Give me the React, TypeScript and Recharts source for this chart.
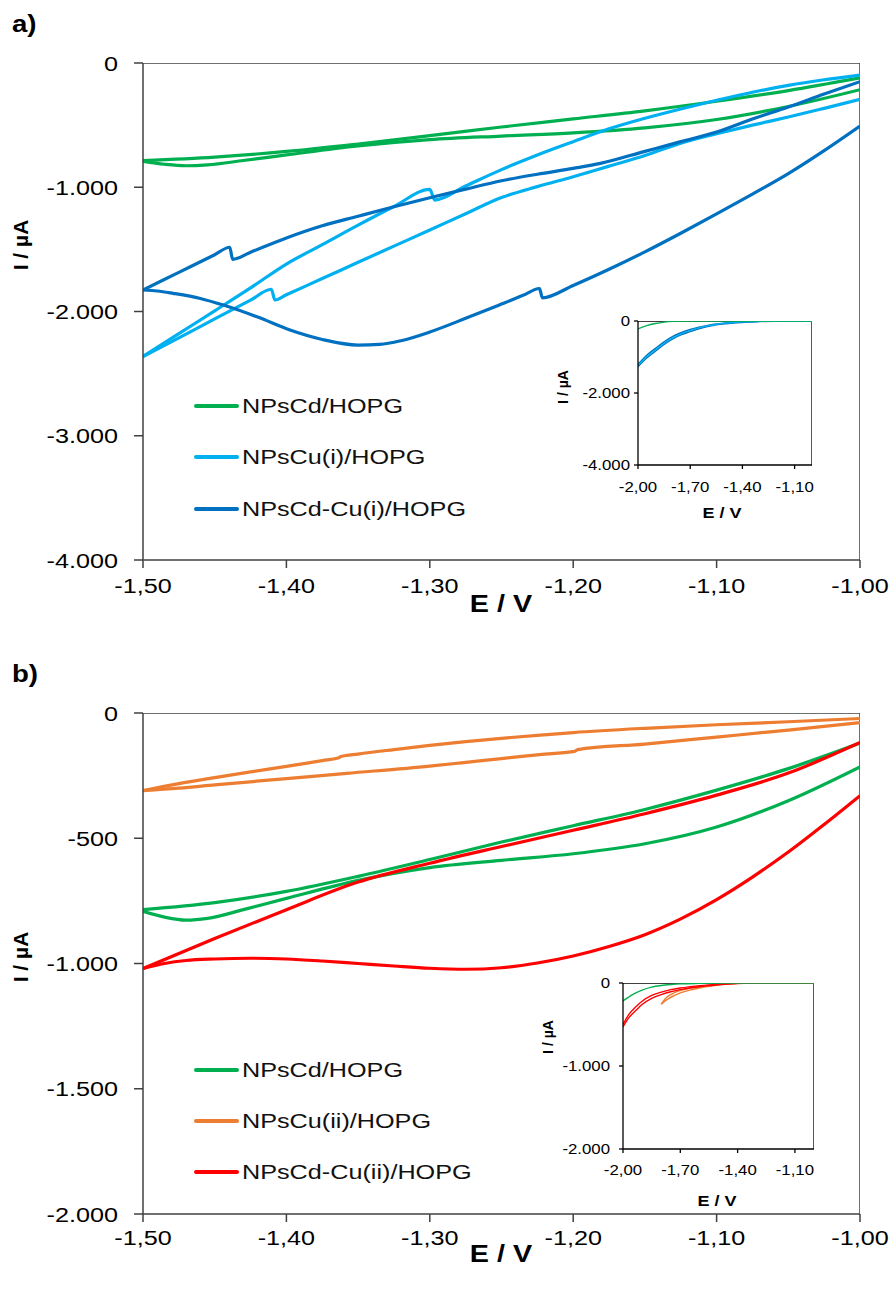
import React from 'react';
import { LineChart, Line, XAxis, YAxis, Label } from 'recharts';

type Pt = [number, number];

// ---------- shared: NPsCd/HOPG (same scan in both panels) ----------
const cdUpper: Pt[] = [
    [-1.5, -785], [-1.45, -757], [-1.4, -712], [-1.35, -652], [-1.3, -585], [-1.25, -515],
    [-1.2, -450], [-1.15, -385], [-1.1, -308], [-1.05, -222], [-1.0, -120],
];
const cdLower: Pt[] = [
    [-1.5, -792], [-1.485, -815], [-1.47, -827], [-1.455, -820], [-1.43, -785], [-1.4, -740],
    [-1.35, -668], [-1.3, -617], [-1.25, -588], [-1.2, -562], [-1.15, -522], [-1.1, -455],
    [-1.05, -350], [-1.0, -215],
];

// ---------- panel a ----------
const cu1Upper: Pt[] = [
    [-1.5, -2362], [-1.475, -2178], [-1.45, -1995], [-1.425, -1810], [-1.4, -1618], [-1.375, -1462],
    [-1.35, -1305], [-1.325, -1155], [-1.3, -1017], [-1.2965, -1103], [-1.275, -990], [-1.25, -858],
    [-1.225, -740], [-1.2, -633], [-1.175, -530], [-1.15, -445], [-1.125, -370], [-1.1, -300],
    [-1.075, -235], [-1.05, -180], [-1.025, -135], [-1.0, -97],
];
const cu1Lower: Pt[] = [
    [-1.5, -2362], [-1.475, -2212], [-1.45, -2060], [-1.425, -1909], [-1.4105, -1821], [-1.408, -1907],
    [-1.4, -1865], [-1.375, -1735], [-1.35, -1604], [-1.325, -1474], [-1.3, -1344], [-1.275, -1213],
    [-1.25, -1083], [-1.225, -995], [-1.2, -915], [-1.175, -830], [-1.15, -745], [-1.125, -645],
    [-1.1, -570], [-1.075, -500], [-1.05, -435], [-1.025, -365], [-1.0, -293],
];
const cdCu1Upper: Pt[] = [
    [-1.5, -1827], [-1.475, -1685], [-1.45, -1543], [-1.4395, -1483], [-1.4375, -1580], [-1.425, -1523],
    [-1.4, -1408], [-1.375, -1310], [-1.35, -1233], [-1.325, -1157], [-1.3, -1084], [-1.275, -1015],
    [-1.25, -948], [-1.225, -895], [-1.2, -848], [-1.181, -808], [-1.15, -711], [-1.125, -633],
    [-1.1, -556], [-1.075, -451], [-1.05, -355], [-1.025, -250], [-1.0, -150],
];
const cdCu1Lower: Pt[] = [
    [-1.5, -1827], [-1.49, -1835], [-1.479, -1854], [-1.46, -1895], [-1.444, -1948], [-1.42, -2045],
    [-1.3975, -2149], [-1.375, -2225], [-1.35, -2270], [-1.335, -2265], [-1.32, -2235], [-1.3, -2165],
    [-1.275, -2055], [-1.25, -1940], [-1.235, -1870], [-1.2235, -1815], [-1.2215, -1890], [-1.2, -1790],
    [-1.175, -1660], [-1.15, -1520], [-1.125, -1370], [-1.1, -1215], [-1.075, -1055], [-1.05, -890],
    [-1.025, -705], [-1.0, -507],
];

// inset a (E from -2,00 to -1,00)
const insetCdA: Pt[] = [
    [-2.0, -220], [-1.95, -130], [-1.9, -70], [-1.85, -30], [-1.8, -10], [-1.7, 0], [-1.0, 0],
];
const insetCdCu1A: Pt[] = [
    [-2.0, -1270], [-1.95, -1030], [-1.9, -840], [-1.85, -650], [-1.8, -495], [-1.75, -380],
    [-1.7, -296], [-1.65, -215], [-1.6, -155], [-1.55, -105], [-1.5, -75], [-1.45, -55],
    [-1.4, -40], [-1.3, -15], [-1.2, -5], [-1.1, 0], [-1.0, 0],
];
const insetCdCu1B: Pt[] = [
    [-2.0, -1200], [-1.95, -950], [-1.9, -760], [-1.85, -580], [-1.8, -430], [-1.75, -320],
    [-1.7, -235], [-1.65, -170], [-1.6, -120], [-1.55, -80], [-1.5, -55], [-1.45, -35],
    [-1.4, -25], [-1.3, -10], [-1.2, 0], [-1.0, 0],
];
const insetCu1A: Pt[] = [
    [-2.0, -1230], [-1.95, -990], [-1.9, -800], [-1.85, -620], [-1.8, -470], [-1.75, -350],
    [-1.7, -265], [-1.65, -190], [-1.6, -135], [-1.55, -90], [-1.5, -60], [-1.45, -40],
    [-1.4, -25], [-1.3, -10], [-1.2, 0], [-1.0, 0],
];

// ---------- panel b ----------
const cu2Upper: Pt[] = [
    [-1.5, -310], [-1.475, -282], [-1.45, -258], [-1.425, -235], [-1.4, -213], [-1.375, -190],
    [-1.364, -180], [-1.362, -174], [-1.35, -164], [-1.325, -146], [-1.3, -129], [-1.275, -114],
    [-1.25, -101], [-1.225, -89], [-1.2, -78], [-1.15, -61], [-1.1, -47], [-1.05, -35], [-1.0, -22],
];
const cu2Lower: Pt[] = [
    [-1.5, -310], [-1.475, -300], [-1.45, -287], [-1.4, -262], [-1.358, -241], [-1.3, -212],
    [-1.278, -199], [-1.25, -182], [-1.22, -164], [-1.199, -153], [-1.197, -146], [-1.15, -124],
    [-1.1, -96], [-1.05, -68], [-1.0, -38],
];
const cdCu2Upper: Pt[] = [
    [-1.5, -1020], [-1.45, -900], [-1.4, -785], [-1.35, -675], [-1.3, -600], [-1.25, -533],
    [-1.2, -468], [-1.15, -402], [-1.1, -328], [-1.05, -240], [-1.0, -118],
];
const cdCu2Lower: Pt[] = [
    [-1.5, -1020], [-1.485, -1000], [-1.47, -988], [-1.45, -982], [-1.425, -979], [-1.4, -982],
    [-1.375, -990], [-1.35, -1000], [-1.325, -1010], [-1.3, -1019], [-1.275, -1023], [-1.25, -1017],
    [-1.225, -998], [-1.2, -970], [-1.175, -932], [-1.15, -885], [-1.125, -822], [-1.1, -745],
    [-1.075, -655], [-1.05, -555], [-1.025, -445], [-1.0, -330],
];

// inset b
const insetCdB: Pt[] = [
    [-2.0, -215], [-1.95, -140], [-1.9, -85], [-1.85, -50], [-1.8, -30], [-1.75, -18],
    [-1.7, -10], [-1.6, -4], [-1.5, 0], [-1.0, 0],
];
const insetCdCu2A: Pt[] = [
    [-2.0, -530], [-1.97, -420], [-1.93, -325], [-1.9, -260], [-1.85, -185], [-1.8, -140],
    [-1.75, -105], [-1.7, -80], [-1.65, -60], [-1.6, -45], [-1.55, -33], [-1.5, -22],
    [-1.45, -12], [-1.4, -6], [-1.3, 0], [-1.0, 0],
];
const insetCdCu2B: Pt[] = [
    [-2.0, -500], [-1.97, -380], [-1.93, -280], [-1.9, -220], [-1.85, -150], [-1.8, -110],
    [-1.75, -80], [-1.7, -60], [-1.65, -45], [-1.6, -32], [-1.55, -22], [-1.5, -14],
    [-1.45, -8], [-1.4, -3], [-1.3, 0], [-1.0, 0],
];
const insetCu2A: Pt[] = [
    [-1.8, -255], [-1.77, -200], [-1.73, -150], [-1.7, -120], [-1.65, -85], [-1.6, -60],
    [-1.55, -40], [-1.5, -25], [-1.45, -12], [-1.4, -5], [-1.3, 0], [-1.0, 0],
];
const insetCu2B: Pt[] = [
    [-1.8, -255], [-1.77, -170], [-1.73, -115], [-1.7, -90], [-1.65, -62], [-1.6, -42],
    [-1.55, -28], [-1.5, -16], [-1.45, -8], [-1.4, -3], [-1.3, 0], [-1.0, 0],
];

// axis ranges and ticks
const E_DOMAIN: [number, number] = [-1.5, -1.0];
const INSET_E_DOMAIN: [number, number] = [-2.0, -1.0];
const E_TICKS = [-1.5, -1.4, -1.3, -1.2, -1.1, -1.0];
const INSET_E_TICKS = [-2.0, -1.7, -1.4, -1.1];
const I_TICKS_A = [0, -1000, -2000, -3000, -4000];
const I_TICKS_B = [0, -500, -1000, -1500, -2000];
const INSET_I_TICKS_A = [0, -2000, -4000];
const INSET_I_TICKS_B = [0, -1000, -2000];

const GREEN = '#00B050';
const LIGHT_BLUE = '#00B0F0';
const DARK_BLUE = '#0070C0';
const ORANGE = '#ED7D31';
const RED = '#FF0000';
const AX = '#404040';
const FONT = '"Liberation Sans", Arial, sans-serif';

const LEGEND_A = [
    { name: 'NPsCd/HOPG', color: GREEN },
    { name: 'NPsCu(i)/HOPG', color: LIGHT_BLUE },
    { name: 'NPsCd-Cu(i)/HOPG', color: DARK_BLUE },
];
const LEGEND_B = [
    { name: 'NPsCd/HOPG', color: GREEN },
    { name: 'NPsCu(ii)/HOPG', color: ORANGE },
    { name: 'NPsCd-Cu(ii)/HOPG', color: RED },
];

const rows = (pts: Pt[]) => pts.map(([e, i]) => ({ e, i }));

// top and right edges of the plot box, built from the axis ranges
const frameTop = (xd: [number, number], yd: [number, number]) => rows([[xd[0], yd[1]], [xd[1], yd[1]]]);
const frameRight = (xd: [number, number], yd: [number, number]) => rows([[xd[1], yd[0]], [xd[1], yd[1]]]);

const fmtE = (v: number) => v.toFixed(2).replace('.', ',');
const fmtI = (v: number) => {
    const s = Math.abs(v).toString().replace(/\B(?=(\d{3})+(?!\d))/g, '.');
    return (v < 0 ? '-' : '') + s;
};

// the source picture is stretched sideways, so text is widened a bit
const makeTick =
    (size: number, anchor: 'end' | 'middle', dy: number, fmt: (v: number) => string) =>
    (props: any) => {
        const { x, y, payload } = props;
        return (
            <g transform={`translate(${x},${y})`}>
                <text transform="scale(1.2,1)" textAnchor={anchor} dy={dy} fontSize={size} fill="#000" fontFamily={FONT}>
                    {fmt(payload.value)}
                </text>
            </g>
        );
    };

const LegendBox = ({ items, rowH, left, top }: { items: { name: string; color: string }[]; rowH: number; left: number; top: number }) => (
    <div style={{ position: 'absolute', left, top }}>
        {items.map((it) => (
            <div key={it.name} style={{ height: rowH, display: 'flex', alignItems: 'center' }}>
                <span style={{ display: 'inline-block', width: 45, height: 4, borderRadius: 2, background: it.color }} />
                <span
                    style={{
                        display: 'inline-block',
                        marginLeft: 3,
                        fontSize: 21,
                        fontFamily: FONT,
                        color: '#111',
                        whiteSpace: 'nowrap',
                        transform: 'scaleX(1.2)',
                        transformOrigin: 'left center',
                    }}
                >
                    {it.name}
                </span>
            </div>
        ))}
    </div>
);

type Series = { pts: Pt[]; color: string };

type MainProps = {
    series: Series[];
    yDomain: [number, number];
    yTicks: number[];
    yLabelY: number;
    xAxisH: number;
    xTickMargin: number;
};

const MainChart: React.FC<MainProps> = ({ series, yDomain, yTicks, yLabelY, xAxisH, xTickMargin }) => (
    <LineChart width={890} height={640} margin={{ top: 63, right: 30, left: 0, bottom: 0 }}>
        <XAxis
            dataKey="e"
            type="number"
            domain={E_DOMAIN}
            ticks={E_TICKS}
            allowDataOverflow
            height={xAxisH}
            tickSize={8}
            tickMargin={xTickMargin}
            axisLine={{ stroke: AX, strokeWidth: 1.5 }}
            tickLine={{ stroke: AX, strokeWidth: 1.5 }}
            tick={makeTick(21, 'middle', 15, fmtE)}
        >
            <Label
                content={() => (
                    <text x={501} y={612} textAnchor="middle" fontSize={23} fontWeight="bold" fontFamily={FONT} fill="#000" transform="translate(501,0) scale(1.25,1) translate(-501,0)">
                        E / V
                    </text>
                )}
            />
        </XAxis>
        <YAxis
            type="number"
            domain={yDomain}
            ticks={yTicks}
            allowDataOverflow
            width={143}
            tickSize={9}
            tickMargin={16}
            axisLine={{ stroke: AX, strokeWidth: 1.5 }}
            tickLine={{ stroke: AX, strokeWidth: 1.5 }}
            tick={makeTick(21, 'end', 7.5, fmtI)}
        >
            <Label
                content={() => (
                    <text x={20} y={yLabelY} transform={`rotate(-90 20 ${yLabelY})`} textAnchor="middle" dominantBaseline="central" fontSize={21} fontWeight="bold" fontFamily={FONT} fill="#000">
                        I / µA
                    </text>
                )}
            />
        </YAxis>
        <Line data={frameTop(E_DOMAIN, yDomain)} dataKey="i" type="linear" stroke={AX} strokeWidth={1.5} dot={false} activeDot={false} isAnimationActive={false} />
        <Line data={frameRight(E_DOMAIN, yDomain)} dataKey="i" type="linear" stroke={AX} strokeWidth={1.5} dot={false} activeDot={false} isAnimationActive={false} />
        {series.map((s, k) => (
            <Line key={k} data={rows(s.pts)} dataKey="i" type="monotone" stroke={s.color} strokeWidth={3.2} dot={false} activeDot={false} isAnimationActive={false} />
        ))}
    </LineChart>
);

type InsetProps = {
    series: Series[];
    width: number;
    height: number;
    margin: { top: number; right: number };
    yDomain: [number, number];
    yTicks: number[];
    yTickMargin: number;
    xTickMargin: number;
    xLabel: [number, number];
    yLabel: [number, number];
};

const InsetChart: React.FC<InsetProps> = ({ series, width, height, margin, yDomain, yTicks, yTickMargin, xTickMargin, xLabel, yLabel }) => (
    <LineChart width={width} height={height} margin={{ top: margin.top, right: margin.right, left: 0, bottom: 0 }}>
        <XAxis
            dataKey="e"
            type="number"
            domain={INSET_E_DOMAIN}
            ticks={INSET_E_TICKS}
            allowDataOverflow
            height={71}
            tickSize={4}
            tickMargin={xTickMargin}
            axisLine={{ stroke: '#000', strokeWidth: 1.3 }}
            tickLine={{ stroke: '#000', strokeWidth: 1.3 }}
            tick={makeTick(14, 'middle', 10, fmtE)}
        >
            <Label
                content={() => (
                    <text x={xLabel[0]} y={xLabel[1]} textAnchor="middle" fontSize={15} fontWeight="bold" fontFamily={FONT} fill="#000" transform={`translate(${xLabel[0]},0) scale(1.2,1) translate(${-xLabel[0]},0)`}>
                        E / V
                    </text>
                )}
            />
        </XAxis>
        <YAxis
            type="number"
            domain={yDomain}
            ticks={yTicks}
            allowDataOverflow
            width={108}
            tickSize={4}
            tickMargin={yTickMargin}
            axisLine={{ stroke: '#000', strokeWidth: 1.3 }}
            tickLine={{ stroke: '#000', strokeWidth: 1.3 }}
            tick={makeTick(14, 'end', 5, fmtI)}
        >
            <Label
                content={() => (
                    <text x={yLabel[0]} y={yLabel[1]} transform={`rotate(-90 ${yLabel[0]} ${yLabel[1]})`} textAnchor="middle" dominantBaseline="central" fontSize={14} fontWeight="bold" fontFamily={FONT} fill="#000">
                        I / µA
                    </text>
                )}
            />
        </YAxis>
        <Line data={frameTop(INSET_E_DOMAIN, yDomain)} dataKey="i" type="linear" stroke="#000" strokeWidth={1.3} dot={false} activeDot={false} isAnimationActive={false} />
        <Line data={frameRight(INSET_E_DOMAIN, yDomain)} dataKey="i" type="linear" stroke="#000" strokeWidth={1.3} dot={false} activeDot={false} isAnimationActive={false} />
        {series.map((s, k) => (
            <Line key={k} data={rows(s.pts)} dataKey="i" type="monotone" stroke={s.color} strokeWidth={1.4} dot={false} activeDot={false} isAnimationActive={false} />
        ))}
    </LineChart>
);

const App: React.FC = () => {
    const seriesA: Series[] = [
        { pts: cdUpper, color: GREEN },
        { pts: cdLower, color: GREEN },
        { pts: cu1Lower, color: LIGHT_BLUE },
        { pts: cu1Upper, color: LIGHT_BLUE },
        { pts: cdCu1Lower, color: DARK_BLUE },
        { pts: cdCu1Upper, color: DARK_BLUE },
    ];
    const seriesB: Series[] = [
        { pts: cu2Upper, color: ORANGE },
        { pts: cu2Lower, color: ORANGE },
        { pts: cdUpper, color: GREEN },
        { pts: cdLower, color: GREEN },
        { pts: cdCu2Upper, color: RED },
        { pts: cdCu2Lower, color: RED },
    ];
    const insetA: Series[] = [
        { pts: insetCdCu1A, color: DARK_BLUE },
        { pts: insetCdCu1B, color: DARK_BLUE },
        { pts: insetCu1A, color: LIGHT_BLUE },
        { pts: insetCdA, color: GREEN },
    ];
    const insetB: Series[] = [
        { pts: insetCu2A, color: ORANGE },
        { pts: insetCu2B, color: ORANGE },
        { pts: insetCdCu2A, color: RED },
        { pts: insetCdCu2B, color: RED },
        { pts: insetCdB, color: GREEN },
    ];

    const panelTag: React.CSSProperties = {
        position: 'absolute',
        left: 12,
        fontSize: 23,
        fontWeight: 'bold',
        lineHeight: '23px',
        transform: 'scaleX(1.2)',
        transformOrigin: 'left top',
    };

    return (
        <div style={{ position: 'absolute', left: 0, top: 0, width: 890, height: 1290, background: '#fff', fontFamily: FONT }}>
            <div style={{ position: 'absolute', left: 0, top: 0 }}>
                <MainChart series={seriesA} yDomain={[-4000, 0]} yTicks={I_TICKS_A} yLabelY={245} xAxisH={80} xTickMargin={10} />
            </div>
            <div style={{ position: 'absolute', left: 0, top: 650 }}>
                <MainChart series={seriesB} yDomain={[-2000, 0]} yTicks={I_TICKS_B} yLabelY={307} xAxisH={76} xTickMargin={8} />
            </div>
            <LegendBox items={LEGEND_A} rowH={51.5} left={194} top={380} />
            <LegendBox items={LEGEND_B} rowH={50.8} left={194} top={1045} />
            <div style={{ position: 'absolute', left: 530, top: 300 }}>
                <InsetChart series={insetA} width={300} height={236} margin={{ top: 21, right: 18 }} yDomain={[-4000, 0]} yTicks={INSET_I_TICKS_A} yTickMargin={4} xTickMargin={13} xLabel={[192, 218]} yLabel={[33, 87]} />
            </div>
            <div style={{ position: 'absolute', left: 515, top: 960 }}>
                <InsetChart series={insetB} width={315} height={260} margin={{ top: 23, right: 16 }} yDomain={[-2000, 0]} yTicks={INSET_I_TICKS_B} yTickMargin={9} xTickMargin={12} xLabel={[202, 246]} yLabel={[33, 77]} />
            </div>
            <div style={{ ...panelTag, top: 13 }}>a)</div>
            <div style={{ ...panelTag, top: 663 }}>b)</div>
        </div>
    );
};

export default App;
